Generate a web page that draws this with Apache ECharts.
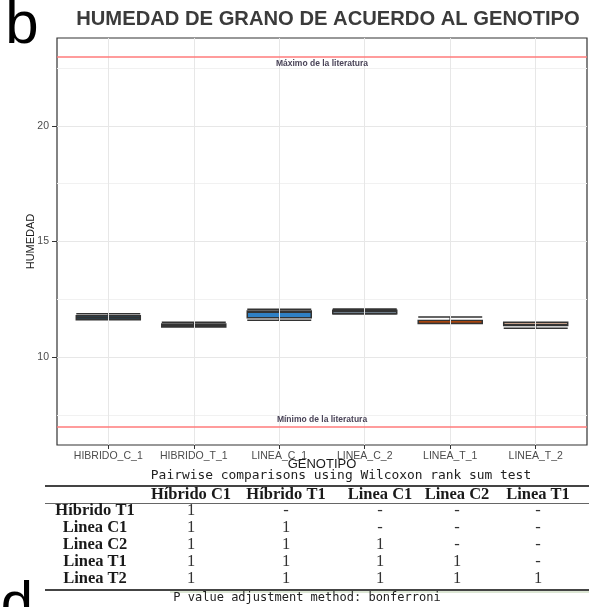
<!DOCTYPE html>
<html>
<head>
<meta charset="utf-8">
<script src="https://cdn.jsdelivr.net/npm/echarts@6/dist/echarts.min.js"></script>
<style>
  html, body { margin: 0; padding: 0; background: #ffffff; }
  #chart { width: 589px; height: 607px; }
</style>
</head>
<body>
<div id="chart"></div>
<script>
// ---- data ----
const genotypes = ['HIBRIDO_C_1', 'HIBRIDO_T_1', 'LINEA_C_1', 'LINEA_C_2', 'LINEA_T_1', 'LINEA_T_2'];
// [min, Q1, median, Q3, max] of grain moisture per genotype
const humedadBox = [
  [11.62, 11.62, 11.70, 11.79, 11.88],
  [11.30, 11.30, 11.37, 11.43, 11.51],
  [11.60, 11.70, 11.94, 12.00, 12.07],
  [11.86, 11.88, 11.96, 12.03, 12.08],
  [11.45, 11.45, 11.46, 11.58, 11.73],
  [11.25, 11.37, 11.40, 11.51, 11.51]
];
const boxFills = ['#27485a', '#6e3a12', '#2f80c4', '#a9c4dc', '#d24c02', '#c4a08a'];
const yTicks = [10, 15, 20];
const yMinorGrid = [7.5, 12.5, 17.5, 22.5];
const yRange = [6.2, 23.8];
const literaturaMax = 23;
const literaturaMin = 7;
const labelMax = 'Máximo de la literatura';
const labelMin = 'Mínimo de la literatura';

// pairwise Wilcoxon table
const tableTitle = 'Pairwise comparisons using Wilcoxon rank sum test';
const tableFooter = 'P value adjustment method: bonferroni';
const tableCols = ['Híbrido C1', 'Híbrido T1', 'Linea C1', 'Linea C2', 'Linea T1'];
const tableRows = ['Híbrido T1', 'Linea C1', 'Linea C2', 'Linea T1', 'Linea T2'];
const pValues = [
  ['1', '-', '-', '-', '-'],
  ['1', '1', '-', '-', '-'],
  ['1', '1', '1', '-', '-'],
  ['1', '1', '1', '1', '-'],
  ['1', '1', '1', '1', '1']
];

// ---- layout ----
const plot = { left: 57, right: 587, top: 38, bottom: 445 };
const W = 589, H = 607;
// discrete axis: categories at 1..n, panel spans 0.4 .. n+0.6
const xMin = 0.4, xMax = genotypes.length + 0.6;
const unit = (plot.right - plot.left) / (xMax - xMin);
const catLeft = plot.left + (1 - xMin) * unit - unit / 2;
const catRight = catLeft + unit * genotypes.length;

const sans = '"Liberation Sans", Arial, sans-serif';
const serif = '"Liberation Serif", "Times New Roman", serif';
const mono = '"DejaVu Sans Mono", monospace';

const gridLines = [];
yMinorGrid.forEach(v => gridLines.push({ yAxis: v, lineStyle: { color: '#f1f1f1', width: 1, type: 'solid' } }));
yTicks.forEach(v => gridLines.push({ yAxis: v, lineStyle: { color: '#e7e7e7', width: 1, type: 'solid' } }));
genotypes.forEach((g, i) => gridLines.push({ xAxis: i + 1, lineStyle: { color: '#e7e7e7', width: 1, type: 'solid' } }));

// table graphics
const colCenters = [95, 191, 286, 380, 457, 538];
const headerY = 494.5, firstRowY = 511, rowStep = 17;
const tableGraphics = [];
tableGraphics.push({ type: 'text', x: 341, y: 476, style: { text: tableTitle, font: '12.9px ' + mono, fill: '#222', align: 'center', verticalAlign: 'middle' } });
tableGraphics.push({ type: 'line', shape: { x1: 45, y1: 486, x2: W, y2: 486 }, style: { stroke: '#444', lineWidth: 2 } });
tableCols.forEach((c, j) => tableGraphics.push({ type: 'text', x: colCenters[j + 1], y: headerY, style: { text: c, font: 'bold 16.5px ' + serif, fill: '#1a1a1a', align: 'center', verticalAlign: 'middle' } }));
tableGraphics.push({ type: 'line', shape: { x1: 45, y1: 503.5, x2: W, y2: 503.5 }, style: { stroke: '#666', lineWidth: 1 } });
tableRows.forEach((r, i) => {
  const y = firstRowY + i * rowStep;
  tableGraphics.push({ type: 'text', x: colCenters[0], y: y, style: { text: r, font: 'bold 16.5px ' + serif, fill: '#1a1a1a', align: 'center', verticalAlign: 'middle' } });
  pValues[i].forEach((p, j) => tableGraphics.push({ type: 'text', x: colCenters[j + 1], y: y, style: { text: p, font: '16.5px ' + serif, fill: '#333', align: 'center', verticalAlign: 'middle' } }));
});
tableGraphics.push({ type: 'line', shape: { x1: 45, y1: 590, x2: W, y2: 590 }, style: { stroke: '#444', lineWidth: 2 } });
tableGraphics.push({ type: 'rect', shape: { x: 170, y: 591, width: W - 170, height: 2 }, style: { fill: '#dce6d4' } });
tableGraphics.push({ type: 'text', x: 307, y: 598, style: { text: tableFooter, font: '12px ' + mono, fill: '#222', align: 'center', verticalAlign: 'middle' } });

const chart = echarts.init(document.getElementById('chart'), null, { renderer: 'canvas', width: W, height: H });

chart.setOption({
  animation: false,
  backgroundColor: '#ffffff',
  grid: [
    { left: plot.left, top: plot.top, width: plot.right - plot.left, height: plot.bottom - plot.top,
      show: true, backgroundColor: '#ffffff', borderColor: '#333333', borderWidth: 1.2 },
    { left: catLeft, top: plot.top, width: catRight - catLeft, height: plot.bottom - plot.top, show: false }
  ],
  xAxis: [
    { type: 'value', gridIndex: 0, min: xMin, max: xMax, show: false },
    { type: 'category', gridIndex: 1, data: genotypes, boundaryGap: true,
      axisLine: { show: false },
      axisTick: { show: true, alignWithLabel: true, length: 4, lineStyle: { color: '#333333', width: 1 } },
      axisLabel: { color: '#4d4d4d', fontSize: 10.5, fontFamily: sans, margin: 6, interval: 0 },
      splitLine: { show: false },
      name: 'GENOTIPO', nameLocation: 'middle', nameGap: 13, nameMoveOverlap: false,
      nameTextStyle: { color: '#1a1a1a', fontSize: 13, fontFamily: sans } }
  ],
  yAxis: [
    { type: 'value', gridIndex: 0, min: yRange[0], max: yRange[1],
      axisLine: { show: false },
      axisTick: { show: true, length: 5, customValues: yTicks, lineStyle: { color: '#333333', width: 1 } },
      axisLabel: { color: '#4d4d4d', fontSize: 10.5, fontFamily: sans, margin: 8, customValues: yTicks },
      splitLine: { show: false },
      name: 'HUMEDAD', nameLocation: 'middle', nameRotate: 90, nameGap: 21, nameMoveOverlap: false,
      nameTextStyle: { color: '#1a1a1a', fontSize: 11, fontFamily: sans } },
    { type: 'value', gridIndex: 1, min: yRange[0], max: yRange[1], show: false }
  ],
  series: [
    { type: 'line', xAxisIndex: 0, yAxisIndex: 0, data: [], z: 1, silent: true,
      markLine: { silent: true, symbol: 'none', animation: false, label: { show: false }, data: gridLines } },
    { type: 'line', xAxisIndex: 0, yAxisIndex: 0, data: [], z: 4, silent: true,
      markLine: { silent: true, symbol: 'none', animation: false,
        lineStyle: { color: '#ff7b7b', width: 1.5, type: 'solid' },
        data: [
          { yAxis: literaturaMax, label: { show: true, formatter: labelMax, position: 'insideMiddleBottom', distance: 3,
              color: '#4a4458', fontSize: 8.5, fontWeight: 'bold', fontFamily: sans } },
          { yAxis: literaturaMin, label: { show: true, formatter: labelMin, position: 'insideMiddleTop', distance: 2,
              color: '#4a4458', fontSize: 8.5, fontWeight: 'bold', fontFamily: sans } }
        ] } },
    { type: 'boxplot', xAxisIndex: 1, yAxisIndex: 1, z: 3, boxWidth: [64, 64],
      itemStyle: { borderColor: '#333333', borderWidth: 1.5 },
      data: humedadBox.map((v, i) => ({ value: v, itemStyle: { color: boxFills[i], borderColor: '#333333' } })) }
  ],
  graphic: [
    { type: 'text', x: 328, y: 19, style: { text: 'HUMEDAD DE GRANO DE ACUERDO AL GENOTIPO', font: 'bold 20.2px ' + sans, fill: '#3b3b3b', align: 'center', verticalAlign: 'middle' } },
    { type: 'text', x: 22, y: 26, style: { text: 'b', font: '60px ' + sans, fill: '#000', align: 'center', verticalAlign: 'middle' } },
    { type: 'text', x: 17, y: 606, style: { text: 'd', font: '58px ' + sans, fill: '#000', align: 'center', verticalAlign: 'middle' } }
  ].concat(tableGraphics)
});
</script>
</body>
</html>
